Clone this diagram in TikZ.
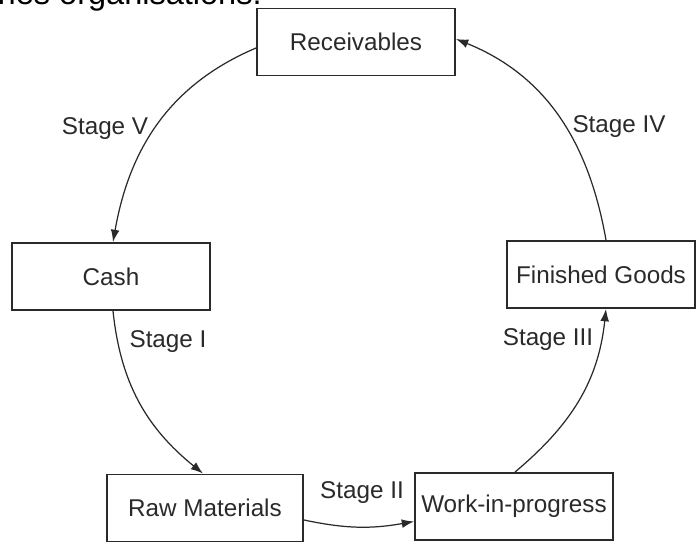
\documentclass[tikz,border=0pt]{standalone}
\usepackage{fontspec}
\setmainfont{Liberation Sans}
\usetikzlibrary{arrows.meta}
\definecolor{ink}{HTML}{2A2A2A}
\tikzset{
  stagebox/.style={draw=ink, line width=1.1pt, minimum height=1.34cm, inner sep=0pt,
    text=ink, font=\fontsize{13.8}{16}\selectfont},
  flow/.style={draw=ink, line width=0.7pt, -{Latex[length=7pt,width=5pt]}},
  stagelbl/.style={text=ink, font=\fontsize{13.8}{16}\selectfont, inner sep=0pt}
}
\begin{document}
\begin{tikzpicture}[x=0.02cm,y=0.02cm]
\useasboundingbox (0,0) rectangle (697,544);
\fill[white] (0,0) rectangle (697,544);
\begin{scope}
\clip (0,0) rectangle (697,544);
\node[anchor=base east, inner sep=0pt, text=black, font=\fontsize{18.5}{20}\selectfont] (top) at (262,539) {ries organisations.};
\end{scope}
% boxes
\node[stagebox, minimum width=3.96cm] (rec) at (356,502) {Receivables};
\node[stagebox, minimum width=3.96cm] (cash) at (111,267.5) {Cash};
\node[stagebox, minimum width=3.76cm] (fg) at (601,269.5) {Finished Goods};
\node[stagebox, minimum width=3.92cm] (rm) at (205,36) {Raw Materials};
\node[stagebox, minimum width=3.96cm] (wip) at (514,37.5) {Work-in-progress};
% connectors
\draw[flow] (rec.west) ++(0,-6) coordinate (r1) (r1) to[out=203,in=80] (cash.north west -| 113,0);
\path (cash.south) coordinate (c0);
\draw[flow] ([xshift=0.04cm]cash.south) to[out=276,in=141] ([xshift=-0.04cm]rm.north);
\draw[flow] ([yshift=-0.24cm]rm.east) to[out=-12,in=190] ([yshift=-0.3cm]wip.west);
\draw[flow] ([xshift=0.02cm]wip.north) to[out=40,in=264] ([xshift=0.1cm]fg.south);
\draw[flow] ([xshift=0.1cm]fg.north) to[out=100,in=338] ([yshift=0.06cm]rec.east);
% labels
\node[stagelbl] (s5) at (105,415) {Stage V};
\node[stagelbl] (s4) at (619,417) {Stage IV};
\node[stagelbl] (s1) at (168,202) {Stage I};
\node[stagelbl] (s3) at (548,204) {Stage III};
\node[stagelbl] (s2) at (362,51) {Stage II};
\end{tikzpicture}
\end{document}
